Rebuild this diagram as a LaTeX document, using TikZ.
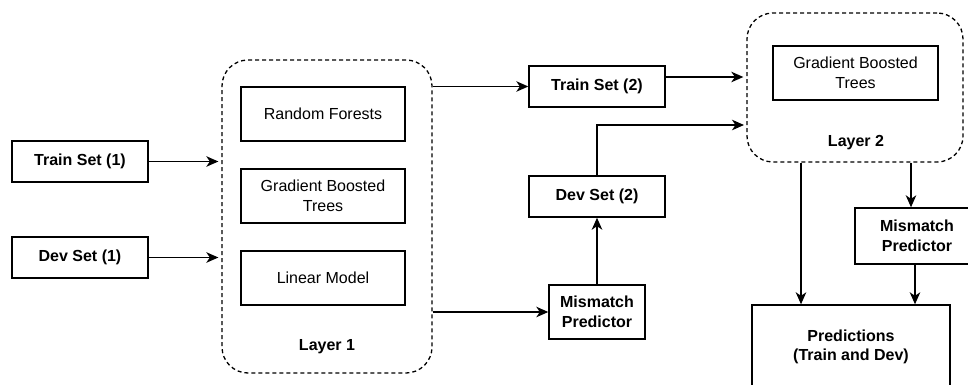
\documentclass[tikz,border=0pt]{standalone}
\usepackage{fontspec}
\setmainfont{Liberation Sans}
\usetikzlibrary{arrows.meta}
\begin{document}
\begin{tikzpicture}[x=1pt,y=-1pt,
  box/.style={draw, line width=1.4pt, inner sep=0pt, align=center, font=\fontsize{16}{19.5}\selectfont},
  bbox/.style={box, font=\fontsize{16}{19.5}\selectfont\bfseries},
  layer/.style={draw, line width=1.3pt, dash pattern=on 4pt off 3pt, rounded corners=26pt, inner sep=0pt},
  lbl/.style={inner sep=0pt, font=\fontsize{16}{19.5}\selectfont\bfseries},
  arr/.style={line width=1.5pt, -{Stealth[length=12pt,width=10.5pt,inset=3.5pt]}, shorten >=3pt}]
\clip (0,0) rectangle (968,385);
\fill[white] (0,0) rectangle (968,385);
% layers
\node[layer, minimum width=210pt, minimum height=313pt] (L1) at (327,216.5) {};
\node[layer, minimum width=216pt, minimum height=149pt] (L2) at (855,87.5) {};
\node[lbl] (L1t) at (327,347) {Layer 1};
\node[lbl] (L2t) at (856,143) {Layer 2};
% inputs
\node[bbox, minimum width=136pt, minimum height=41pt] (ts1) at (80,161.5) {Train Set (1)};
\node[bbox, minimum width=136pt, minimum height=41pt] (ds1) at (80,257.5) {Dev Set (1)};
% layer 1 models
\node[box, minimum width=164pt, minimum height=54pt] (rf) at (323,114) {Random Forests};
\node[box, minimum width=164pt, minimum height=54pt] (gbt1) at (323,196) {Gradient Boosted\\Trees};
\node[box, minimum width=164pt, minimum height=54pt] (lm) at (323,278) {Linear Model};
% middle
\node[bbox, minimum width=136pt, minimum height=41pt] (ts2) at (597,86.5) {Train Set (2)};
\node[bbox, minimum width=136pt, minimum height=41pt] (ds2) at (597,196.5) {Dev Set (2)};
\node[bbox, minimum width=96pt, minimum height=54pt] (mp1) at (597,312) {Mismatch\\Predictor};
% layer 2
\node[box, minimum width=165pt, minimum height=54pt] (gbt2) at (855.5,73) {Gradient Boosted\\Trees};
\node[bbox, minimum width=124pt, minimum height=56pt] (mp2) at (917,236) {Mismatch\\Predictor};
\node[bbox, minimum width=198pt, minimum height=84pt] (pred) at (851,347) {Predictions\\(Train and Dev)};
% connectors
\draw[arr] (ts1.east) -- (ts1.east -| L1.west);
\draw[arr] (ds1.east) -- (ds1.east -| L1.west);
\draw[arr, shorten >=0pt] (L1.east |- ts2) -- (ts2.west);
\draw[arr, shorten >=0pt] (L1.east |- mp1) -- (mp1.west);
\draw[arr, shorten >=0pt] (mp1.north) -- (ds2.south);
\coordinate (t2o) at ([yshift=9.5pt]ts2.east);
\draw[arr] (t2o) -- (t2o -| L2.west);
\coordinate (d2in) at (747,125);
\draw[arr] (ds2.north) |- (d2in);
\coordinate (p1) at ([xshift=-50pt]pred.north);
\draw[arr, shorten >=0pt] (p1 |- L2.south) -- (p1);
\coordinate (m2t) at ([xshift=-6pt]mp2.north);
\draw[arr, shorten >=0pt] (m2t |- L2.south) -- (m2t);
\coordinate (m2b) at ([xshift=-2pt]mp2.south);
\draw[arr, shorten >=0pt] (m2b) -- (m2b |- pred.north);
\end{tikzpicture}
\end{document}
